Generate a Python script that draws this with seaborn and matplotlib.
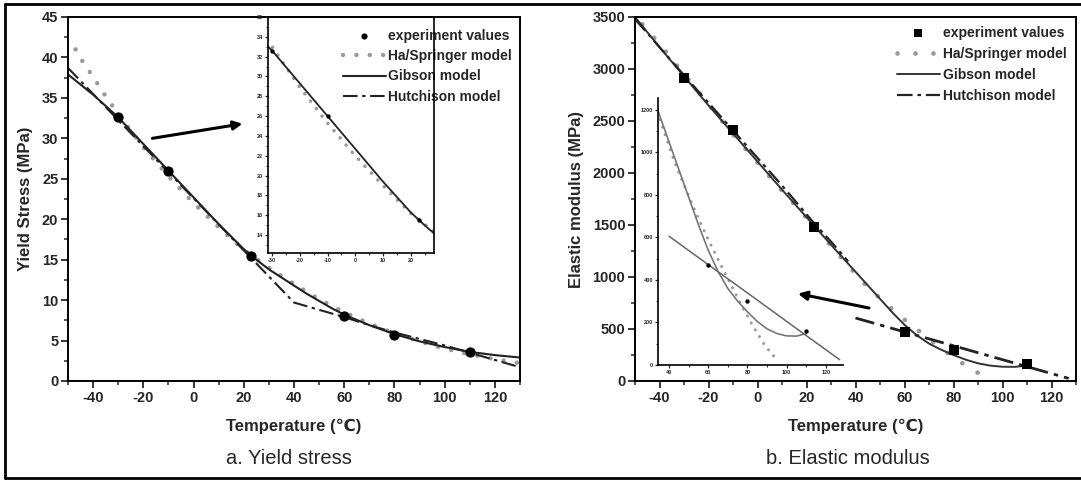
import numpy as np
import pandas as pd
import matplotlib
matplotlib.use("Agg")
import matplotlib.pyplot as plt
from matplotlib.ticker import MultipleLocator
from matplotlib.lines import Line2D
import seaborn as sns

# ---- panel a: yield stress (MPa) vs temperature ----
ys_exp_t = [-30, -10, 23, 60, 80, 110]
ys_exp = [32.6, 26.0, 15.5, 8.0, 5.7, 3.6]

ys_hs_t = [-47, -44, -40, -35, -30, -20, -10, 0, 10, 20, 30, 40, 50, 60, 70, 80, 90, 100, 110, 120, 130]
ys_hs = [41.0, 39.4, 37.6, 35.2, 33.0, 28.9, 25.3, 22.0, 19.0, 16.2, 14.0, 12.0, 10.1, 8.5, 7.1, 5.9, 4.9, 4.0, 3.3, 2.7, 2.2]

ys_gib_t = [-50, -40, -30, -20, -10, 0, 10, 20, 25, 30, 35, 40, 45, 50, 55, 60, 70, 80, 90, 100, 110, 120, 130]
ys_gib = [37.9, 35.4, 32.6, 29.3, 26.0, 22.7, 19.4, 16.3, 15.0, 13.8, 12.8, 11.8, 10.8, 9.9, 9.0, 8.2,
          6.9, 5.8, 4.9, 4.2, 3.6, 3.2, 2.9]

ys_hut_t = [-50, 40, 50, 60, 70, 80, 90, 100, 110, 120, 130]
ys_hut = [38.7, 9.7, 8.8, 7.9, 6.9, 6.0, 5.2, 4.4, 3.5, 2.6, 1.7]

# ---- panel b: elastic modulus (MPa) vs temperature ----
em_exp_t = [-30, -10, 23, 60, 80, 110]
em_exp = [2910, 2410, 1480, 470, 300, 160]

em_hs_t = [-47, -40, -30, -20, -10, 0, 10, 20, 30, 43, 48, 54, 60, 67, 77, 83, 89, 95]
em_hs = [3430, 3240, 2950, 2660, 2370, 2100, 1830, 1570, 1300, 950, 840, 710, 590, 460, 280, 180, 90, 25]

em_gib_t = [-50, -40, -30, -20, -10, 0, 10, 20, 30, 40, 45, 50, 55, 60, 65, 70, 75, 80, 85, 90, 95, 100, 105, 110]
em_gib = [3500, 3210, 2930, 2650, 2380, 2110, 1840, 1575, 1310, 1050, 920, 790, 660, 540, 440, 360, 300,
          250, 205, 170, 148, 137, 136, 148]

em_hut_glass_t = [-50, -30, -10, 10, 23, 30, 37]
em_hut_glass = [3480, 2940, 2410, 1880, 1520, 1340, 1150]
em_hut_rub_t = [40, 60, 80, 110, 127]
em_hut_rub = [606, 472, 339, 138, 25]

legend_labels = ["experiment values", "Ha/Springer model", "Gibson model", "Hutchison model"]
captions = ["a. Yield stress", "b. Elastic modulus"]

sns.set_style("ticks")
plt.rcParams['font.family'] = ['Liberation Sans', 'DejaVu Sans']
plt.rcParams['font.weight'] = 'bold'
plt.rcParams['axes.labelweight'] = 'bold'
plt.rcParams['axes.unicode_minus'] = False

fig = plt.figure(figsize=(10.81, 4.80), dpi=100)

W, H = 1081, 480
def px_axes(l, t, r, b):
    return fig.add_axes([l / W, 1 - b / H, (r - l) / W, (b - t) / H])

gray = '#9a9a9a'
hut_dash = (0, (7, 2.2, 1.6, 2.2))


def style_main(ax):
    for s in ax.spines.values():
        s.set_linewidth(1.4)
        s.set_color('black')
    ax.tick_params(which='major', direction='out', length=5, width=1.3, labelsize=10.5, pad=2)
    ax.tick_params(which='minor', direction='out', length=3, width=1.1)
    ax.tick_params(top=False, right=False)
    for lab in ax.get_xticklabels() + ax.get_yticklabels():
        lab.set_fontweight('bold')


def style_inset(ax, spines_all):
    for name, s in ax.spines.items():
        s.set_linewidth(1.2)
        s.set_color('black')
    if not spines_all:
        ax.spines['top'].set_visible(False)
        ax.spines['right'].set_visible(False)
    ax.tick_params(which='major', direction='out', length=2.5, width=0.9, labelsize=4, pad=1)
    ax.tick_params(which='minor', direction='out', length=1.5, width=0.7)
    for lab in ax.get_xticklabels() + ax.get_yticklabels():
        lab.set_fontweight('bold')
    ax.set_facecolor('none')


# ================= panel a =================
ax1 = px_axes(68, 17, 520, 381)
sns.scatterplot(x=ys_exp_t, y=ys_exp, ax=ax1, color='black', s=55, marker='o',
                edgecolor='black', linewidth=0, label=legend_labels[0], zorder=5)
sns.lineplot(x=ys_hs_t, y=ys_hs, ax=ax1, color=gray, linewidth=3.2,
             linestyle=(0, (0.01, 3.0)), dash_capstyle='round', label=legend_labels[1])
sns.lineplot(x=ys_gib_t, y=ys_gib, ax=ax1, color='#222222', linewidth=1.5, label=legend_labels[2])
sns.lineplot(x=ys_hut_t, y=ys_hut, ax=ax1, color='#222222', linewidth=1.5,
             linestyle=hut_dash, label=legend_labels[3])
ax1.set_xlim(-50, 130)
ax1.set_ylim(0, 45)
ax1.xaxis.set_major_locator(MultipleLocator(20))
ax1.xaxis.set_minor_locator(MultipleLocator(10))
ax1.yaxis.set_major_locator(MultipleLocator(5))
ax1.yaxis.set_minor_locator(MultipleLocator(2.5))
ax1.set_xlabel('Temperature (\u2103)', fontsize=12, fontweight='bold', labelpad=10)
ax1.set_ylabel('Yield Stress (MPa)', fontsize=12, fontweight='bold', labelpad=6)
style_main(ax1)
leg1 = ax1.legend(loc='upper left', bbox_to_anchor=(336 / W, 1 - 22 / H),
                  bbox_transform=fig.transFigure, frameon=False, fontsize=10,
                  handlelength=3.1, handletextpad=0.15, labelspacing=0.45,
                  borderpad=0, markerscale=0.6)
for t in leg1.get_texts():
    t.set_fontweight('bold')

arrow_a_tail = (-16.4, 30.0)
arrow_a_tip = (19.5, 31.8)
ax1.annotate('', xy=arrow_a_tip, xytext=arrow_a_tail,
             arrowprops=dict(arrowstyle='-|>', lw=2.2, color='black', mutation_scale=13,
                             shrinkA=0, shrinkB=0))

ins1 = px_axes(268, 17, 434, 253)
sns.lineplot(x=ys_hs_t, y=ys_hs, ax=ins1, color=gray, linewidth=2.6,
             linestyle=(0, (0.01, 2.6)), dash_capstyle='round')
sns.lineplot(x=ys_gib_t, y=ys_gib, ax=ins1, color='#222222', linewidth=1.3)
sns.scatterplot(x=ys_exp_t, y=ys_exp, ax=ins1, color='black', s=10, linewidth=0, zorder=5)
ins1.set_xlim(-31.5, 28.4)
ins1.set_ylim(12.2, 36)
ins1.xaxis.set_major_locator(MultipleLocator(10))
ins1.xaxis.set_minor_locator(MultipleLocator(5))
ins1.yaxis.set_major_locator(MultipleLocator(2))
ins1.yaxis.set_minor_locator(MultipleLocator(1))
ins1.set_xlabel('')
ins1.set_ylabel('')
style_inset(ins1, True)

# ================= panel b =================
ax2 = px_axes(635, 17, 1076, 381)
sns.scatterplot(x=em_exp_t, y=em_exp, ax=ax2, color='black', s=60, marker='s',
                linewidth=0, label=legend_labels[0], zorder=5)
sns.lineplot(x=em_hs_t, y=em_hs, ax=ax2, color=gray, linewidth=3.4,
             linestyle=(0, (0.01, 3.8)), dash_capstyle='round', label=legend_labels[1])
sns.lineplot(x=em_gib_t, y=em_gib, ax=ax2, color='#333333', linewidth=1.4, label=legend_labels[2])
sns.lineplot(x=em_hut_glass_t, y=em_hut_glass, ax=ax2, color='#222222', linewidth=1.6,
             linestyle=hut_dash, label=legend_labels[3])
sns.lineplot(x=em_hut_rub_t, y=em_hut_rub, ax=ax2, color='#222222', linewidth=2.0,
             linestyle=hut_dash)
ax2.set_xlim(-50, 130)
ax2.set_ylim(0, 3500)
ax2.xaxis.set_major_locator(MultipleLocator(20))
ax2.xaxis.set_minor_locator(MultipleLocator(10))
ax2.yaxis.set_major_locator(MultipleLocator(500))
ax2.yaxis.set_minor_locator(MultipleLocator(250))
ax2.set_xlabel('Temperature (\u2103)', fontsize=12, fontweight='bold', labelpad=10)
ax2.set_ylabel('Elastic modulus (MPa)', fontsize=12, fontweight='bold', labelpad=6)
style_main(ax2)
leg2 = ax2.legend(loc='upper left', bbox_to_anchor=(890 / W, 1 - 19 / H),
                  bbox_transform=fig.transFigure, frameon=False, fontsize=10,
                  handlelength=3.1, handletextpad=0.2, labelspacing=0.5,
                  borderpad=0, markerscale=0.7)
for t in leg2.get_texts():
    t.set_fontweight('bold')

arrow_b_tail = (45.5, 702)
arrow_b_tip = (16.5, 840)
ax2.annotate('', xy=arrow_b_tip, xytext=arrow_b_tail,
             arrowprops=dict(arrowstyle='-|>', lw=2.2, color='black', mutation_scale=13,
                             shrinkA=0, shrinkB=0))

ins2 = px_axes(658, 98, 843, 365)
sns.lineplot(x=em_hs_t, y=em_hs, ax=ins2, color=gray, linewidth=2.2,
             linestyle=(0, (0.01, 2.6)), dash_capstyle='round')
sns.lineplot(x=em_gib_t, y=em_gib, ax=ins2, color='#777777', linewidth=1.2)
sns.lineplot(x=em_hut_rub_t, y=em_hut_rub, ax=ins2, color='#666666', linewidth=1.1)
sns.scatterplot(x=em_exp_t, y=em_exp, ax=ins2, color='black', s=10, linewidth=0, zorder=5)
ins2.set_xlim(34.4, 128.7)
ins2.set_ylim(0, 1256)
ins2.xaxis.set_major_locator(MultipleLocator(20))
ins2.xaxis.set_minor_locator(MultipleLocator(10))
ins2.yaxis.set_major_locator(MultipleLocator(200))
ins2.yaxis.set_minor_locator(MultipleLocator(100))
ins2.set_xlabel('')
ins2.set_ylabel('')
style_inset(ins2, False)

# captions and outer frame
fig.text(289 / W, 1 - 458 / H, captions[0], ha='center', va='center',
         fontsize=14.5, fontweight='normal')
fig.text(848 / W, 1 - 458 / H, captions[1], ha='center', va='center',
         fontsize=14.5, fontweight='normal')
for xs, ys in [((5 / W, 5 / W), (1 - 4 / H, 1 - 478 / H)),
               ((5 / W, 1.0), (1 - 4 / H, 1 - 4 / H)),
               ((5 / W, 1.0), (1 - 478 / H, 1 - 478 / H))]:
    fig.add_artist(Line2D(xs, ys, transform=fig.transFigure, color='black', linewidth=2))

fig.savefig('out.png', dpi=100)
plt.close(fig)
